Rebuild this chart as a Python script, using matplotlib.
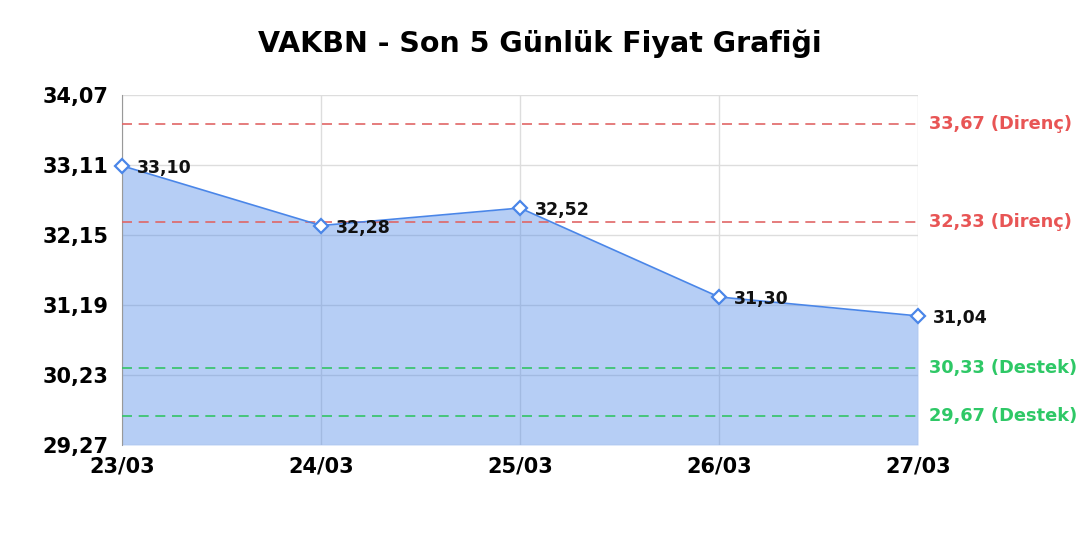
import numpy as np
import matplotlib.pyplot as plt

dates = ['23/03', '24/03', '25/03', '26/03', '27/03']
prices = [33.10, 32.28, 32.52, 31.30, 31.04]
resistance = [33.67, 32.33]
support = [30.33, 29.67]
y_ticks = [29.27, 30.23, 31.19, 32.15, 33.11, 34.07]


def fmt(v):
    return f'{v:.2f}'.replace('.', ',')


fig = plt.figure(figsize=(10.8, 5.4), dpi=100)
ax = fig.add_axes([0.113, 0.176, 0.737, 0.648])

x = np.arange(len(dates))
ax.fill_between(x, prices, y_ticks[0], color='#4a86e8', alpha=0.4, lw=0, zorder=1)
ax.plot(x, prices, color='#4a86e8', lw=1.2, marker='D', ms=7,
        mfc='white', mec='#4a86e8', mew=1.6, zorder=4, clip_on=False)

for xi, p in zip(x, prices):
    ax.annotate(fmt(p), (xi, p), xytext=(11, -1.5), textcoords='offset points',
                ha='left', va='center', fontsize=12.5, fontweight='bold',
                color='#111111', zorder=5, annotation_clip=False)

for r in resistance:
    ax.axhline(r, color='#e06666', ls=(0, (6, 4)), lw=1.2, zorder=3)
    ax.annotate(f'{fmt(r)} (Direnç)', (1, r), xycoords=('axes fraction', 'data'),
                xytext=(8, 0), textcoords='offset points', va='center',
                fontsize=12.8, fontweight='bold', color='#e85555',
                annotation_clip=False)
for s in support:
    ax.axhline(s, color='#33c466', ls=(0, (6, 4)), lw=1.2, zorder=3)
    ax.annotate(f'{fmt(s)} (Destek)', (1, s), xycoords=('axes fraction', 'data'),
                xytext=(8, 0), textcoords='offset points', va='center',
                fontsize=12.8, fontweight='bold', color='#2ec866',
                annotation_clip=False)

ax.set_xlim(0, len(dates) - 1)
ax.set_ylim(y_ticks[0], y_ticks[-1])
ax.set_xticks(x)
ax.set_xticklabels(dates, fontsize=15, fontweight='bold')
ax.set_yticks(y_ticks)
ax.set_yticklabels([fmt(v) for v in y_ticks], fontsize=15, fontweight='bold')
ax.tick_params(axis='y', length=0, pad=10)
ax.tick_params(axis='x', length=0, pad=8)
ax.grid(True, color='#dddddd', lw=1, zorder=0)
ax.set_axisbelow(True)
for side in ['top', 'right', 'bottom']:
    ax.spines[side].set_visible(False)
ax.spines['left'].set_color('#999999')

fig.suptitle('VAKBN - Son 5 Günlük Fiyat Grafiği', fontsize=20.5,
             fontweight='bold', y=0.945)

fig.savefig('out.png', dpi=100)
